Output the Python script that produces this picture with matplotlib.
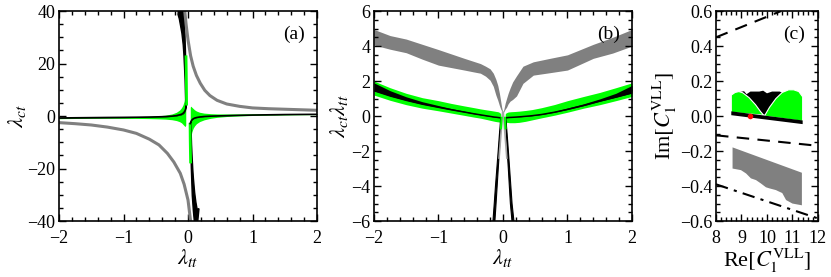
import numpy as np
import matplotlib
matplotlib.use("Agg")
import matplotlib.pyplot as plt
from matplotlib.ticker import MultipleLocator, FuncFormatter

plt.rcParams['font.family'] = ['Liberation Serif', 'DejaVu Serif']
plt.rcParams['mathtext.fontset'] = 'stix'
plt.rcParams['axes.linewidth'] = 1.2

GREEN = '#00ff00'
GRAY = '#808080'

# ---- panel (b) data: lambda_ct*lambda_tt bands vs lambda_tt ----
lam_neg = [-2, -1.75, -1.5, -1.25, -1, -0.8, -0.6, -0.45, -0.35, -0.25, -0.18, -0.13, -0.1, -0.08, -0.06, -0.045, -0.035]
green_lo_neg = [1.2, 0.9, 0.65, 0.45, 0.3, 0.17, 0.04, -0.06, -0.12, -0.2, -0.26, -0.3, -0.32, -0.33, -0.34, -0.35, -0.35]
green_hi_neg = [2.0, 1.62, 1.3, 1.05, 0.88, 0.72, 0.58, 0.48, 0.41, 0.35, 0.31, 0.28, 0.26, 0.25, 0.22, 0.18, 0.12]
black_lo_neg = [1.45, 1.15, 0.9, 0.68, 0.5, 0.36, 0.23, 0.13, 0.07, 0.01, -0.03, -0.06, -0.07, -0.08, -0.09, -0.095, -0.1]
black_hi_neg = [1.9, 1.45, 1.1, 0.82, 0.6, 0.43, 0.28, 0.17, 0.1, 0.03, -0.01, -0.04, -0.05, -0.06, -0.07, -0.08, -0.09]

lam_pos = [0.035, 0.045, 0.06, 0.08, 0.1, 0.13, 0.18, 0.25, 0.35, 0.45, 0.6, 0.8, 1, 1.25, 1.5, 1.75, 2]
green_lo_pos = [-0.35, -0.35, -0.36, -0.37, -0.38, -0.38, -0.38, -0.36, -0.3, -0.22, -0.1, 0.05, 0.22, 0.45, 0.65, 0.88, 1.12]
green_hi_pos = [0.12, 0.17, 0.2, 0.23, 0.24, 0.25, 0.26, 0.28, 0.32, 0.37, 0.48, 0.66, 0.88, 1.12, 1.35, 1.62, 1.9]
black_lo_pos = [-0.1, -0.095, -0.09, -0.085, -0.08, -0.075, -0.065, -0.045, -0.015, 0.02, 0.09, 0.22, 0.38, 0.6, 0.85, 1.08, 1.32]
black_hi_pos = [-0.09, -0.085, -0.08, -0.075, -0.07, -0.065, -0.05, -0.03, 0.005, 0.045, 0.12, 0.27, 0.46, 0.7, 0.98, 1.3, 1.75]

# black spikes (product values and lambda edges)
spike_p = [-0.1, -0.3, -0.6, -1, -1.5, -2, -3, -4, -5, -6]
spike_l_outer = [-0.034, -0.039, -0.045, -0.054, -0.064, -0.074, -0.095, -0.116, -0.135, -0.155]
spike_l_inner = [-0.026, -0.029, -0.033, -0.040, -0.048, -0.056, -0.073, -0.090, -0.107, -0.125]
spike_r_inner = [0.036, 0.040, 0.045, 0.051, 0.059, 0.066, 0.083, 0.099, 0.115, 0.14]
spike_r_outer = [0.044, 0.049, 0.055, 0.064, 0.074, 0.084, 0.103, 0.122, 0.141, 0.17]

# thin green along the spikes
gspike_p = [-0.1, -0.3, -0.5, -0.7]
gspike_l = [-0.022, -0.025, -0.028, -0.031]
gspike_r = [0.032, 0.034, 0.037, 0.040]

# gray band
lam_g_neg = [-2, -1.75, -1.5, -1.25, -1, -0.8, -0.6, -0.45, -0.35, -0.27, -0.2, -0.15, -0.11, -0.08, -0.055, -0.035, -0.02, -0.008]
gray_hi_neg = [4.95, 4.6, 4.4, 4.1, 3.8, 3.55, 3.3, 3.12, 3.0, 2.85, 2.7, 2.45, 2.1, 1.75, 1.3, 0.85, 0.5, 0.3]
gray_lo_neg = [4.06, 3.82, 3.62, 3.25, 2.91, 2.77, 2.63, 2.52, 2.45, 2.28, 2.05, 1.7, 1.2, 0.9, 0.6, 0.4, 0.3, 0.22]
lam_g_pos = [0.008, 0.02, 0.035, 0.055, 0.08, 0.11, 0.15, 0.21, 0.31, 0.47, 0.73, 1.0, 1.4, 1.7, 2.0]
gray_hi_pos = [0.3, 0.5, 0.75, 1.0, 1.3, 1.6, 1.95, 2.3, 2.85, 3.1, 3.3, 3.5, 4.1, 4.5, 4.95]
gray_lo_pos = [0.22, 0.3, 0.4, 0.5, 0.7, 0.85, 0.95, 1.15, 1.87, 2.34, 2.48, 2.63, 3.3, 3.6, 4.0]
gspk_x_l = [-0.005, -0.06]
gspk_x_r = [0.005, 0.06]
gspk_y = [0.22, -2.4]

# ---- panel (a) gray curve ----
gray_up_x = [-0.05, -0.03, 0.0, 0.04, 0.08, 0.13, 0.19, 0.26, 0.34, 0.45, 0.6, 0.8, 1.0, 1.25, 1.5, 1.75, 2.0]
gray_up_y = [40, 35, 29, 23, 19, 15.5, 12.5, 9.8, 7.8, 6.0, 4.6, 3.7, 3.1, 2.8, 2.6, 2.4, 2.2]
gray_lo_x = [-2, -1.75, -1.5, -1.25, -1, -0.8, -0.6, -0.45, -0.32, -0.22, -0.12, -0.06, 0.0, 0.04]
gray_lo_y = [-2.5, -2.9, -3.4, -4.2, -5.3, -6.6, -8.8, -11, -14.2, -17.5, -21.8, -26, -32, -40]

# ---- panel (c) ----
dash1_x, dash1_y = [8, 10.55], [0.45, 0.6]
dash2_x, dash2_y = [8, 12], [-0.11, -0.17]
dashdot_x, dashdot_y = [8, 12], [-0.39, -0.585]
grayc_x = [8.65, 11.37, 11.37, 11.0, 10.75, 10.6, 10.45, 10.35, 10.09, 9.96, 9.76, 9.57, 9.37, 9.18, 8.98, 8.65]
grayc_y = [-0.179, -0.324, -0.51, -0.50, -0.48, -0.44, -0.43, -0.423, -0.413, -0.407, -0.385, -0.366, -0.356, -0.328, -0.309, -0.30]
blackc_x = [8.85, 9.1, 9.2, 9.35, 9.7, 9.85, 10.0, 10.2, 10.5, 10.65, 10.65, 8.85]
blackc_y = [0.135, 0.142, 0.125, 0.14, 0.14, 0.145, 0.13, 0.14, 0.14, 0.13, 0.0, 0.02]
greenL_x = [8.6, 8.6, 8.75, 8.9, 9.05, 9.3, 9.55, 9.75, 9.87, 8.6]
greenL_y = [0.02, 0.12, 0.135, 0.14, 0.133, 0.105, 0.065, 0.025, 0.005, 0.02]
greenR_x = [9.9, 10.1, 10.35, 10.6, 10.85, 11.05, 11.25, 11.4, 11.4, 9.9]
greenR_y = [0.0, 0.05, 0.10, 0.135, 0.15, 0.15, 0.14, 0.11, -0.03, 0.0]
strip_x = [8.6, 11.4, 11.4, 8.6]
strip_y = [0.027, -0.025, -0.046, 0.005]
red_x, red_y = [9.33], [0.0]


def minus(fmt):
    return FuncFormatter(lambda v, pos: (fmt % v).replace('-', '\u2212'))


def style(ax, xmaj, xmin, ymaj, ymin):
    ax.xaxis.set_major_locator(MultipleLocator(xmaj))
    ax.xaxis.set_minor_locator(MultipleLocator(xmin))
    ax.yaxis.set_major_locator(MultipleLocator(ymaj))
    ax.yaxis.set_minor_locator(MultipleLocator(ymin))
    ax.tick_params(which='both', direction='in', top=True, right=True, labelsize=13, width=1)
    ax.tick_params(which='major', length=5)
    ax.tick_params(axis='x', which='major', pad=6.5)
    ax.tick_params(axis='y', which='major', pad=2.5)
    ax.tick_params(which='minor', length=3)


fig = plt.figure(figsize=(8.31, 2.77), dpi=100)
axa = fig.add_axes([0.071, 0.202, 0.3105, 0.758])
axb = fig.add_axes([0.450, 0.202, 0.3105, 0.758])
axc = fig.add_axes([0.8616, 0.202, 0.1227, 0.758])

# ---- (b) ----
axb.fill_between(lam_g_neg, gray_lo_neg, gray_hi_neg, color=GRAY, lw=0)
axb.fill_between(lam_g_pos, gray_lo_pos, gray_hi_pos, color=GRAY, lw=0)
axb.plot(gspk_x_l, gspk_y, color='0.65', lw=1.2)
axb.plot(gspk_x_r, gspk_y, color='0.65', lw=1.2)
for lam, glo, ghi, blo, bhi in [(lam_neg, green_lo_neg, green_hi_neg, black_lo_neg, black_hi_neg),
                                (lam_pos, green_lo_pos, green_hi_pos, black_lo_pos, black_hi_pos)]:
    axb.fill_between(lam, glo, ghi, color=GREEN, lw=0)
    axb.fill_between(lam, blo, bhi, color='k', lw=0)
    axb.plot(lam, blo, 'k', lw=1.1)
axb.plot(gspike_l, gspike_p, color=GREEN, lw=1.5)
axb.plot(gspike_r, gspike_p, color=GREEN, lw=1.5)
axb.fill(spike_l_outer + spike_l_inner[::-1], spike_p + spike_p[::-1], color='k', lw=0.8)
axb.fill(spike_r_outer + spike_r_inner[::-1], spike_p + spike_p[::-1], color='k', lw=0.8)
axb.set_xlim(-2, 2)
axb.set_ylim(-6, 6)
style(axb, 1, 0.2, 2, 0.5)
axb.xaxis.set_major_formatter(minus('%g'))
axb.yaxis.set_major_formatter(minus('%g'))
axb.set_xlabel(r'$\lambda_{tt}$', fontsize=16, labelpad=0)
axb.set_ylabel(r'$\lambda_{ct}\lambda_{tt}$', fontsize=16, labelpad=1)
axb.text(0.91, 0.89, '(b)', transform=axb.transAxes, fontsize=14, ha='center', va='center')

# ---- (a): same bands divided by lambda_tt ----
for lam, glo, ghi in [(lam_neg, green_lo_neg, green_hi_neg), (lam_pos, green_lo_pos, green_hi_pos)]:
    lam = np.array(lam)
    axa.fill_between(lam, np.array(glo) / lam, np.array(ghi) / lam, color=GREEN, lw=0)
for gl in [gspike_l, gspike_r]:
    axa.plot(gl, np.array(gspike_p) / np.array(gl), color=GREEN, lw=2)
axa.plot(gray_up_x, gray_up_y, color=GRAY, lw=2.2)
axa.plot(gray_lo_x, gray_lo_y, color=GRAY, lw=2.2)
for lam, blo, bhi in [(lam_neg, black_lo_neg, black_hi_neg), (lam_pos, black_lo_pos, black_hi_pos)]:
    lam = np.array(lam)
    axa.fill_between(lam, np.array(blo) / lam, np.array(bhi) / lam, color='k', lw=0)
    axa.plot(lam, np.array(blo) / lam, 'k', lw=1.2)
for outer, inner in [(spike_l_outer, spike_l_inner), (spike_r_outer, spike_r_inner)]:
    xs = np.array(outer + inner[::-1])
    ps = np.array(spike_p + spike_p[::-1])
    axa.fill(xs, ps / xs, color='k', lw=1)
axa.set_xlim(-2, 2)
axa.set_ylim(-40, 40)
style(axa, 1, 0.2, 20, 5)
axa.xaxis.set_major_formatter(minus('%g'))
axa.yaxis.set_major_formatter(minus('%g'))
axa.set_xlabel(r'$\lambda_{tt}$', fontsize=16, labelpad=0)
axa.set_ylabel(r'$\lambda_{ct}$', fontsize=16, labelpad=0)
axa.text(0.91, 0.89, '(a)', transform=axa.transAxes, fontsize=14, ha='center', va='center')

# ---- (c) ----
axc.plot(dash1_x, dash1_y, 'k', lw=1.5, dashes=(6, 4))
axc.plot(dash2_x, dash2_y, 'k', lw=1.5, dashes=(6, 4))
axc.plot(dashdot_x, dashdot_y, 'k', lw=1.5, dashes=(6, 3, 1.5, 3))
axc.fill(grayc_x, grayc_y, color=GRAY, lw=0)
axc.fill(blackc_x, blackc_y, color='k', lw=0)
axc.fill(greenL_x, greenL_y, facecolor=GREEN, edgecolor='white', lw=0.8)
axc.fill(greenR_x, greenR_y, facecolor=GREEN, edgecolor='white', lw=0.8)
axc.fill(strip_x, strip_y, color='k', lw=0)
axc.plot(red_x, red_y, 'o', color='red', ms=4, mew=0)
axc.set_xlim(8, 12)
axc.set_ylim(-0.6, 0.6)
style(axc, 1, 0.2, 0.2, 0.05)
axc.xaxis.set_major_formatter(minus('%g'))
axc.yaxis.set_major_formatter(minus('%.1f'))
axc.set_xlabel(r'Re$[C_1^{\rm VLL}]$', fontsize=16, labelpad=0)
axc.set_ylabel(r'Im$[C_1^{\rm VLL}]$', fontsize=16, labelpad=1)
axc.text(0.77, 0.89, '(c)', transform=axc.transAxes, fontsize=14, ha='center', va='center')

fig.savefig('out.png', dpi=100)
